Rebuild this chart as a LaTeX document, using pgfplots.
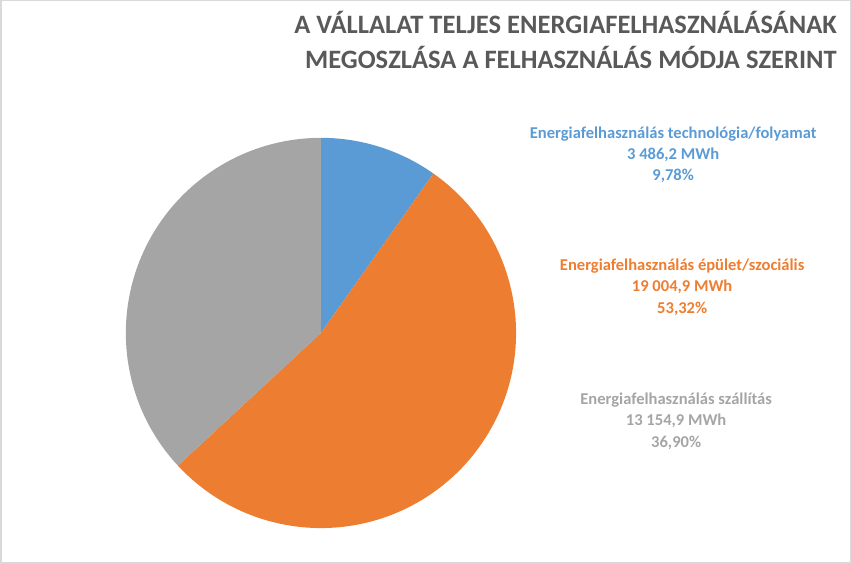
\documentclass[border=0pt]{standalone}
\usepackage{pgfplots}
\pgfplotsset{compat=1.18}
\usepackage{fontspec}
\setmainfont{Carlito}
\definecolor{cblue}{HTML}{5B9BD5}
\definecolor{corange}{HTML}{ED7D31}
\definecolor{cgray}{HTML}{A5A5A5}
\definecolor{ctitle}{HTML}{595959}
\begin{document}
\begin{tikzpicture}
\begin{axis}[
  width=851bp, height=564bp, scale only axis,
  xmin=0, xmax=851, ymin=0, ymax=564, y dir=reverse,
  axis lines=none, clip=false,
]
% values (MWh, in thousands for arithmetic)
\pgfmathsetmacro{\va}{3.4862}
\pgfmathsetmacro{\vb}{19.0049}
\pgfmathsetmacro{\vc}{13.1549}
\pgfmathsetmacro{\tot}{\va+\vb+\vc}
\pgfmathsetmacro{\aA}{90}
\pgfmathsetmacro{\aB}{90-360*\va/\tot}
\pgfmathsetmacro{\aC}{\aB-360*\vb/\tot}
\pgfmathsetmacro{\aD}{-270}
% border
\draw[color=black!15, line width=1.5bp] (axis cs:1,1) rectangle (axis cs:850,563);
% pie
\fill[cblue] (axis cs:321,333) -- ++(\aA:195bp) arc[start angle=\aA, end angle=\aB, radius=195bp] -- cycle;
\fill[corange] (axis cs:321,333) -- ++(\aB:195bp) arc[start angle=\aB, end angle=\aC, radius=195bp] -- cycle;
\fill[cgray] (axis cs:321,333) -- ++(\aC:195bp) arc[start angle=\aC, end angle=\aD, radius=195bp] -- cycle;
% title
\node[anchor=east, text=ctitle, font=\bfseries\fontsize{26.6}{35}\selectfont, align=right] at (axis cs:840,40)
  {A VÁLLALAT TELJES ENERGIAFELHASZNÁLÁSÁNAK\\MEGOSZLÁSA A FELHASZNÁLÁS MÓDJA SZERINT};
% labels
\node[text=cblue, font=\bfseries\fontsize{16.6}{21.5}\selectfont, align=center] at (axis cs:673,155)
  {Energiafelhasználás technológia/folyamat\\3 486,2 MWh\\9,78\%};
\node[text=corange, font=\bfseries\fontsize{16.6}{21.5}\selectfont, align=center] at (axis cs:682,287)
  {Energiafelhasználás épület/szociális\\19 004,9 MWh\\53,32\%};
\node[text=cgray, font=\bfseries\fontsize{16.6}{21.5}\selectfont, align=center] at (axis cs:676,421)
  {Energiafelhasználás szállítás\\13 154,9 MWh\\36,90\%};
\end{axis}
\end{tikzpicture}
\end{document}
